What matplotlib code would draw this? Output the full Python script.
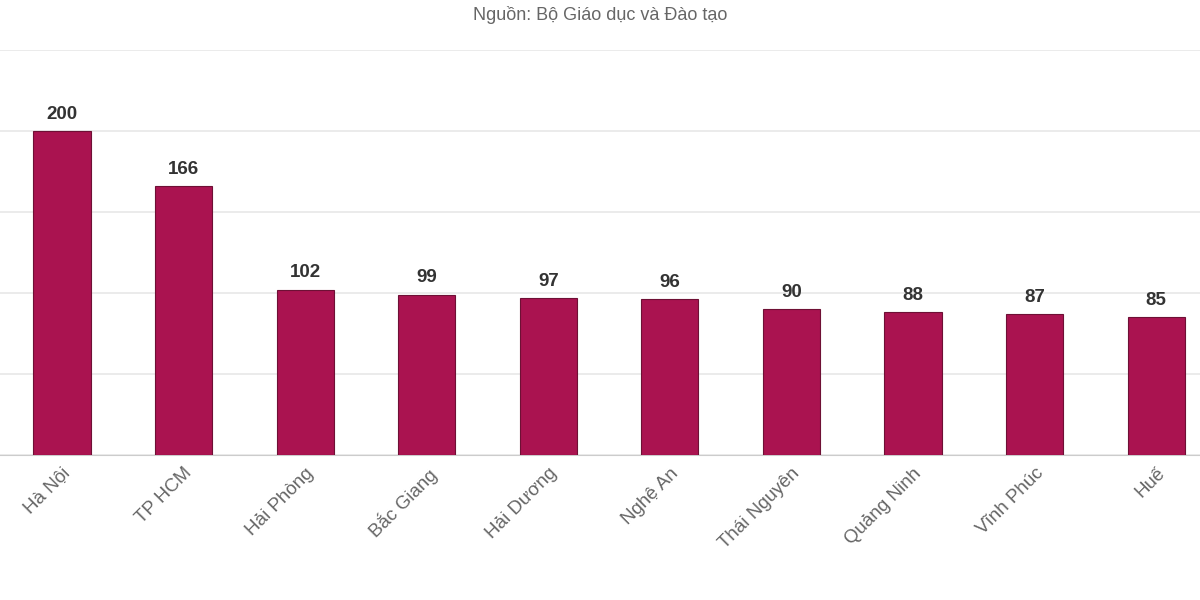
import matplotlib.pyplot as plt
from matplotlib.lines import Line2D

# data
provinces = ['Hà Nội', 'TP HCM', 'Hải Phòng', 'Bắc Giang', 'Hải Dương',
             'Nghệ An', 'Thái Nguyên', 'Quảng Ninh', 'Vĩnh Phúc', 'Huế']
counts = [200, 166, 102, 99, 97, 96, 90, 88, 87, 85]
y_ticks = [0, 50, 100, 150, 200, 250]

bar_color = '#aa1350'

plt.rcParams['font.family'] = ['Liberation Sans', 'DejaVu Sans']

fig = plt.figure(figsize=(12, 6), dpi=100)
ax = fig.add_axes([0.0, 0.2417, 1.0, 0.675])

x = list(range(len(provinces)))
bars = ax.bar(x, counts, width=0.47, color=bar_color, edgecolor='#6e1035',
              linewidth=0.8, zorder=3)

for xi, v in zip(x, counts):
    ax.annotate(str(v), (xi, v), xytext=(0, 6), textcoords='offset points',
                ha='center', va='bottom', fontsize=13.5, fontweight='bold',
                color='#333333')

ax.set_xlim(-0.51, 9.36)
ax.set_ylim(0, 250)
ax.set_yticks(y_ticks)
ax.yaxis.grid(True, color='#e8e8e8', linewidth=1.2, zorder=0)
ax.tick_params(axis='y', left=False, labelleft=False)
ax.tick_params(axis='x', length=0, pad=7)
ax.set_xticks(x)
ax.set_xticklabels(provinces, rotation=45, ha='right', rotation_mode='anchor',
                   fontsize=13.5, color='#666666')
for s in ['top', 'right', 'left']:
    ax.spines[s].set_visible(False)
ax.spines['bottom'].set_color('#cccccc')

fig.text(0.5, 0.975, 'Nguồn: Bộ Giáo dục và Đào tạo', ha='center', va='center',
         fontsize=13, color='#666666')

# legend sits at the very bottom edge, mostly cut off
handle = Line2D([], [], marker='o', linestyle='none', markersize=12,
                markerfacecolor=bar_color, markeredgecolor=bar_color)
fig.legend([handle], ['Số lượng'], loc='center', bbox_to_anchor=(0.48, -0.018),
           frameon=False, fontsize=13, handletextpad=0.4,
           labelcolor='#333333')

fig.savefig('out.png', dpi=100)
